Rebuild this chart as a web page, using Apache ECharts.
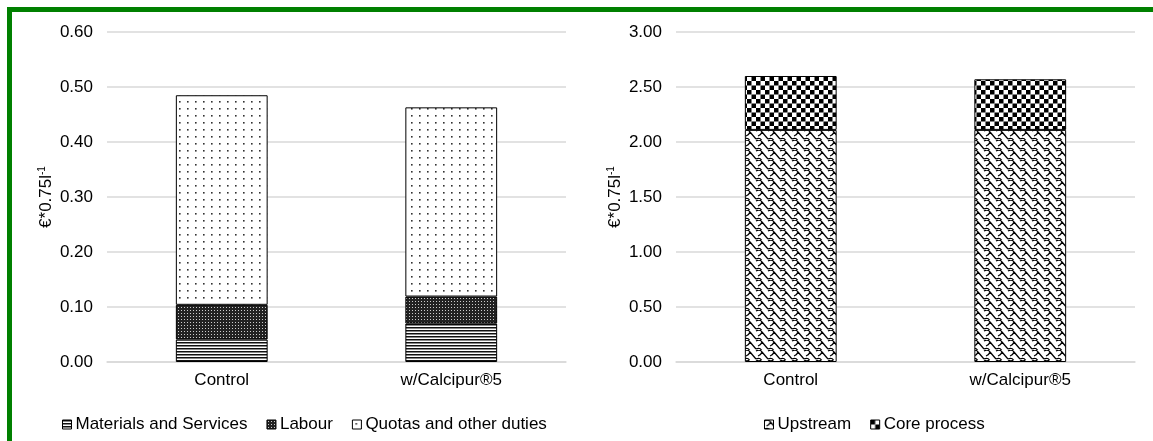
<!DOCTYPE html>
<html><head><meta charset="utf-8">
<script src="https://cdn.jsdelivr.net/npm/echarts@6/dist/echarts.min.js"></script>
<style>
html,body{margin:0;padding:0;background:#fff;}
#frame{position:absolute;left:7px;top:7px;width:1146px;height:434px;border-left:5px solid #008000;border-top:5px solid #008000;}
#c{position:absolute;left:0;top:0;width:1153px;height:441px;}
</style></head><body>
<div id="frame"></div>
<div id="c"></div>
<script>
const categories = ['Control', 'w/Calcipur®5'];
const materials = [0.041, 0.070];
const labour = [0.063, 0.049];
const quotas = [0.381, 0.344];
const upstream = [2.11, 2.11];
const coreProcess = [0.49, 0.46];
const leftTicks = [0, 0.6, 0.1];
const rightTicks = [0, 3, 0.5];

function pat(w, h, draw) {
  const c = document.createElement('canvas');
  c.width = w; c.height = h;
  const g = c.getContext('2d');
  draw(g);
  return { image: c, repeat: 'repeat' };
}
const pMat = pat(1, 3, g => { g.fillStyle = '#fff'; g.fillRect(0,0,1,3); g.fillStyle = '#111'; g.fillRect(0,0,1,1); g.fillStyle = '#888'; g.fillRect(0,1,1,1); });
const pLab = pat(3, 3, g => { g.fillStyle = '#222'; g.fillRect(0,0,3,3); g.fillStyle = '#ccc'; g.fillRect(1,1,1,1); });
const pQuo = pat(8, 7, g => { g.fillStyle = '#fff'; g.fillRect(0,0,8,7); g.fillStyle = '#333'; g.fillRect(3,3,1.6,1.6); });
const pUp = pat(12, 10, g => {
  g.fillStyle = '#fff'; g.fillRect(0,0,12,10);
  g.strokeStyle = '#000'; g.lineWidth = 1.3;
  g.beginPath();
  g.moveTo(0,1); g.quadraticCurveTo(4,-1,6,2); g.lineTo(12,9);
  g.moveTo(6,2); g.quadraticCurveTo(5,5,2,6);
  g.moveTo(12,1); g.quadraticCurveTo(16,-1,18,2);
  g.moveTo(-6,2); g.lineTo(0,9);
  g.moveTo(0,9); g.quadraticCurveTo(4,7,6,11);
  g.stroke();
});
const pCore = pat(9, 9, g => { g.fillStyle = '#fff'; g.fillRect(0,0,9,9); g.fillStyle = '#000'; g.fillRect(0,0,4.5,4.5); g.fillRect(4.5,4.5,4.5,4.5); });

const chart = echarts.init(document.getElementById('c'), null, { renderer: 'canvas' });
const font = 'Liberation Sans, Arial, sans-serif';
const FS = 17;
const nameRich = { rich: { n: { fontSize: FS, color: '#000', fontFamily: font }, s: { fontSize: 10, color: '#000', fontFamily: font, verticalAlign: 'top', padding: [0,0,8,0] } } };
function yAxis(gi, t, gap) {
  return {
    type: 'value', gridIndex: gi, min: t[0], max: t[1], interval: t[2],
    name: '{n|€*0.75l}{s|-1}', nameLocation: 'middle', nameGap: gap, nameRotate: 90,
    nameTextStyle: nameRich,
    axisLine: { show: false }, axisTick: { show: false },
    axisLabel: { formatter: v => v.toFixed(2), color: '#000', fontSize: FS, fontFamily: font, margin: 14 },
    splitLine: { lineStyle: { color: '#d9d9d9', width: 1.5 } }
  };
}
function xAxis(gi) {
  return {
    type: 'category', gridIndex: gi, data: categories,
    axisLine: { lineStyle: { color: '#d9d9d9', width: 1.5 } }, axisTick: { show: false },
    axisLabel: { color: '#000', fontSize: FS, fontFamily: font, margin: 10 }
  };
}
const bs = { borderColor: '#000', borderWidth: 1 };
function bar(name, data, gi, p) {
  return { name, type: 'bar', xAxisIndex: gi, yAxisIndex: gi, stack: 's' + gi, data, barWidth: '40%',
    itemStyle: Object.assign({ color: p }, bs), emphasis: { disabled: true } };
}
const legendText = { color: '#000', fontSize: FS, fontFamily: font, padding: [0,0,0,-1] };
chart.setOption({
  animation: false,
  grid: [
    { left: 107, top: 32, width: 459, height: 330 },
    { left: 676, top: 32, width: 459, height: 330 }
  ],
  legend: [
    { data: ['Materials and Services', 'Labour', 'Quotas and other duties'], left: 57, top: 411, itemWidth: 9, itemHeight: 9, itemGap: 19,
      textStyle: legendText, icon: 'rect', itemStyle: { borderColor: '#000', borderWidth: 1 } },
    { data: ['Upstream', 'Core process'], left: 759, top: 411, itemWidth: 9, itemHeight: 9, itemGap: 19,
      textStyle: legendText, icon: 'rect', itemStyle: { borderColor: '#000', borderWidth: 1 } }
  ],
  xAxis: [xAxis(0), xAxis(1)],
  yAxis: [yAxis(0, leftTicks, 52), yAxis(1, rightTicks, 52)],
  series: [
    bar('Materials and Services', materials, 0, pMat),
    bar('Labour', labour, 0, pLab),
    bar('Quotas and other duties', quotas, 0, pQuo),
    bar('Upstream', upstream, 1, pUp),
    bar('Core process', coreProcess, 1, pCore)
  ]
});
</script>
</body></html>
